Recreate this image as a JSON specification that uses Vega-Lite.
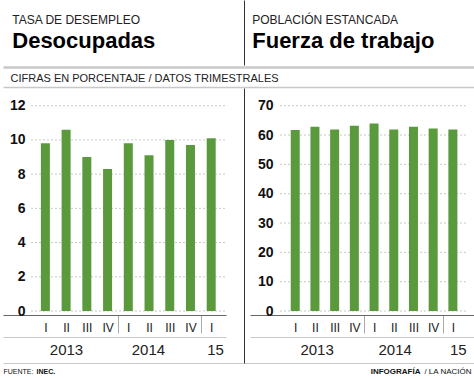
{
  "$schema": "https://vega.github.io/schema/vega-lite/v6.json",
  "padding": 0,
  "background": "white",
  "spacing": 0,
  "bounds": "flush",
  "config": {"view": {"stroke": null}, "font": "Liberation Sans", "axis": {"grid": false, "labelFont": "Liberation Sans", "titleFont": "Liberation Sans"}},
  "datasets": {
    "desocupadas": [
      {"trimestre": 1, "valor": 9.8}, {"trimestre": 2, "valor": 10.6}, {"trimestre": 3, "valor": 9.0},
      {"trimestre": 4, "valor": 8.3}, {"trimestre": 5, "valor": 9.8}, {"trimestre": 6, "valor": 9.1},
      {"trimestre": 7, "valor": 10.0}, {"trimestre": 8, "valor": 9.7}, {"trimestre": 9, "valor": 10.1}
    ],
    "fuerza": [
      {"trimestre": 1, "valor": 61.7}, {"trimestre": 2, "valor": 62.8}, {"trimestre": 3, "valor": 61.9},
      {"trimestre": 4, "valor": 63.2}, {"trimestre": 5, "valor": 63.9}, {"trimestre": 6, "valor": 61.9},
      {"trimestre": 7, "valor": 62.8}, {"trimestre": 8, "valor": 62.2}, {"trimestre": 9, "valor": 61.9}
    ],
    "gridL": [{"g": 0}, {"g": 2}, {"g": 4}, {"g": 6}, {"g": 8}, {"g": 10}, {"g": 12}],
    "gridR": [{"g": 0}, {"g": 10}, {"g": 20}, {"g": 30}, {"g": 40}, {"g": 50}, {"g": 60}, {"g": 70}],
    "one": [{"k": 0}]
  },
  "hconcat": [
    {
      "width": 241,
      "height": 379,
      "title": {"text": "TASA DE DESEMPLEO", "subtitle": "Desocupadas", "anchor": "start", "orient": "top", "offset": -53, "dx": 12,
        "font": "Liberation Sans", "fontSize": 12, "fontWeight": "normal", "color": "#222",
        "subtitleFont": "Liberation Sans", "subtitleFontSize": 22, "subtitleFontWeight": "bold", "subtitleColor": "#000", "subtitlePadding": 4},
      "resolve": {"scale": {"x": "independent"}, "axis": {"x": "independent"}},
      "layer": [
        {
          "data": {"name": "gridL"},
          "mark": {"type": "rule", "color": "#c8c8c8", "strokeDash": [2, 2], "strokeWidth": 1},
          "encoding": {
            "y": {"field": "g", "type": "quantitative"},
            "x": {"datum": 0.49, "type": "quantitative", "scale": {"domain": [-0.8035, 10.341], "nice": false, "zero": false},
              "axis": {"orient": "bottom", "offset": -42, "values": [2.11, 5.9, 9], "labelExpr": "datum.value < 4 ? '2013' : datum.value < 8 ? '2014' : '15'",
                "domainColor": "#c8c8c8", "domainWidth": 1, "domainDash": [223, 100], "ticks": false, "labelPadding": 5, "labelFontSize": 15, "labelColor": "#222",
                "labelFlush": false, "labelOverlap": false, "labelBound": false,
                "title": "INEC.", "titleX": 33, "titleY": 36, "titleAlign": "left", "titleBaseline": "alphabetic", "titleFontSize": 7, "titleFontWeight": "bold", "titleColor": "#111"}},
            "x2": {"datum": 9.46}
          }
        },
        {
          "data": {"name": "desocupadas"},
          "mark": {"type": "bar", "color": "#5a9a3c", "width": 9},
          "encoding": {
            "x": {"field": "trimestre", "type": "quantitative", "scale": {"domain": [-0.8035, 10.341], "nice": false, "zero": false},
              "axis": {"orient": "bottom", "offset": -64, "values": [1, 2, 3, 4, 4.5, 5, 6, 7, 8, 8.5, 9],
                "labelExpr": "datum.value % 1 ? '' : ['', 'I', 'II', 'III', 'IV', 'I', 'II', 'III', 'IV', 'I'][datum.value]",
                "title": null, "domainColor": "#666", "domainWidth": 1.2, "domainDash": [223, 100],
                "tickSize": 18, "tickColor": "#aaa", "tickWidth": 1, "tickOpacity": {"condition": {"test": "datum.value % 1 != 0", "value": 1}, "value": 0},
                "labelPadding": -11, "labelFontSize": 12, "labelColor": "#222", "labelFlush": false, "labelOverlap": false, "labelBound": false}},
            "y": {"field": "valor", "type": "quantitative", "scale": {"domain": [-3.974, 18.177], "nice": false, "zero": false},
              "axis": {"orient": "left", "offset": -24, "values": [0, 2, 4, 6, 8, 10, 12], "title": null, "domain": false, "ticks": false,
                "labelPadding": 2, "labelFontSize": 14, "labelFontWeight": "bold", "labelColor": "#111", "labelFlush": false, "labelOverlap": false, "labelBound": false}}
          }
        },
        {
          "data": {"name": "one"},
          "mark": {"type": "point", "opacity": 0},
          "encoding": {
            "x": {"datum": 0, "type": "quantitative", "scale": {"domain": [0, 1], "nice": false},
              "axis": {"orient": "top", "offset": -87, "labels": false, "ticks": false, "domainColor": "#c8c8c8", "domainWidth": 1.5,
                "title": "CIFRAS EN PORCENTAJE / DATOS TRIMESTRALES", "titleX": 7, "titleY": -9, "titleAlign": "left", "titleBaseline": "middle",
                "titleFontSize": 11, "titleFontWeight": "normal", "titleColor": "#222"}}
          }
        },
        {
          "data": {"name": "one"},
          "mark": {"type": "point", "opacity": 0},
          "encoding": {
            "x": {"datum": 0, "type": "quantitative", "scale": {"domain": [0, 1], "nice": false},
              "axis": {"orient": "top", "offset": -67, "labels": false, "ticks": false, "domainColor": "#c8c8c8", "domainWidth": 2.5, "title": null}}
          }
        },
        {
          "data": {"name": "one"},
          "mark": {"type": "point", "opacity": 0},
          "encoding": {
            "x": {"datum": 0, "type": "quantitative", "scale": {"domain": [0, 1], "nice": false},
              "axis": {"orient": "bottom", "offset": -16, "labels": false, "ticks": false, "domainColor": "#c8c8c8", "domainWidth": 1,
                "title": "FUENTE:", "titleX": 0, "titleY": 10, "titleAlign": "left", "titleBaseline": "alphabetic", "titleFontSize": 7, "titleFontWeight": "normal", "titleColor": "#111"}}
          }
        }
      ]
    },
    {
      "width": 233,
      "height": 379,
      "title": {"text": "POBLACIÓN ESTANCADA", "subtitle": "Fuerza de trabajo", "anchor": "start", "orient": "top", "offset": -53, "dx": 11,
        "font": "Liberation Sans", "fontSize": 12, "fontWeight": "normal", "color": "#222",
        "subtitleFont": "Liberation Sans", "subtitleFontSize": 22, "subtitleFontWeight": "bold", "subtitleColor": "#000", "subtitlePadding": 4},
      "resolve": {"scale": {"x": "independent", "y": "independent"}, "axis": {"x": "independent", "y": "independent"}},
      "layer": [
        {
          "data": {"name": "gridR"},
          "mark": {"type": "rule", "color": "#c8c8c8", "strokeDash": [2, 2], "strokeWidth": 1},
          "encoding": {
            "y": {"field": "g", "type": "quantitative", "scale": {"domain": [-23.18, 106.03], "nice": false, "zero": false}, "axis": null},
            "x": {"datum": 0.4, "type": "quantitative", "scale": {"domain": [-1.346, 9.97], "nice": false, "zero": false},
              "axis": {"orient": "bottom", "offset": -42, "values": [2.18, 5.97, 9.04], "labelExpr": "datum.value < 4 ? '2013' : datum.value < 8 ? '2014' : '15'",
                "domainColor": "#c8c8c8", "domainWidth": 1, "domainDash": [0, 6, 1000], "ticks": false, "labelPadding": 5, "labelFontSize": 15, "labelColor": "#222",
                "labelFlush": false, "labelOverlap": false, "labelBound": false,
                "title": "INFOGRAFÍA", "titleX": 176, "titleY": 36, "titleAlign": "right", "titleBaseline": "alphabetic", "titleFontSize": 8, "titleFontWeight": "bold", "titleColor": "#111"}},
            "x2": {"datum": 9.53}
          }
        },
        {
          "data": {"name": "fuerza"},
          "mark": {"type": "bar", "color": "#5a9a3c", "width": 9},
          "encoding": {
            "x": {"field": "trimestre", "type": "quantitative", "scale": {"domain": [-1.346, 9.97], "nice": false, "zero": false},
              "axis": {"orient": "bottom", "offset": -64, "values": [1, 2, 3, 4, 4.5, 5, 6, 7, 8, 8.5, 9],
                "labelExpr": "datum.value % 1 ? '' : ['', 'I', 'II', 'III', 'IV', 'I', 'II', 'III', 'IV', 'I'][datum.value]",
                "title": null, "domainColor": "#666", "domainWidth": 1.2, "domainDash": [0, 6, 1000],
                "tickSize": 18, "tickColor": "#aaa", "tickWidth": 1, "tickOpacity": {"condition": {"test": "datum.value % 1 != 0", "value": 1}, "value": 0},
                "labelPadding": -11, "labelFontSize": 12, "labelColor": "#222", "labelFlush": false, "labelOverlap": false, "labelBound": false}},
            "y": {"field": "valor", "type": "quantitative", "scale": {"domain": [-23.18, 106.03], "nice": false, "zero": false},
              "axis": {"orient": "left", "offset": -31, "values": [0, 10, 20, 30, 40, 50, 60, 70], "title": null, "domain": false, "ticks": false,
                "labelPadding": 2, "labelFontSize": 14, "labelFontWeight": "bold", "labelColor": "#111", "labelFlush": false, "labelOverlap": false, "labelBound": false}}
          }
        },
        {
          "data": {"name": "one"},
          "mark": {"type": "point", "opacity": 0},
          "encoding": {
            "x": {"datum": 0, "type": "quantitative", "scale": {"domain": [0, 1], "nice": false},
              "axis": {"orient": "top", "offset": -87, "labels": false, "ticks": false, "domainColor": "#c8c8c8", "domainWidth": 1.5, "title": null}},
            "y": {"datum": 0, "type": "quantitative", "scale": {"domain": [0, 1], "nice": false},
              "axis": {"orient": "left", "offset": 0, "labels": false, "ticks": false, "domainColor": "#333", "domainWidth": 1, "domainDash": [0, 16, 275, 23, 65], "title": null}}
          }
        },
        {
          "data": {"name": "one"},
          "mark": {"type": "point", "opacity": 0},
          "encoding": {
            "x": {"datum": 0, "type": "quantitative", "scale": {"domain": [0, 1], "nice": false},
              "axis": {"orient": "top", "offset": -67, "labels": false, "ticks": false, "domainColor": "#c8c8c8", "domainWidth": 2.5, "title": null}}
          }
        },
        {
          "data": {"name": "one"},
          "mark": {"type": "point", "opacity": 0},
          "encoding": {
            "x": {"datum": 0, "type": "quantitative", "scale": {"domain": [0, 1], "nice": false},
              "axis": {"orient": "bottom", "offset": -16, "labels": false, "ticks": false, "domainColor": "#c8c8c8", "domainWidth": 1,
                "title": "/ LA NACIÓN", "titleX": 227, "titleY": 10, "titleAlign": "right", "titleBaseline": "alphabetic", "titleFontSize": 8, "titleFontWeight": "normal", "titleColor": "#111"}}
          }
        }
      ]
    }
  ]
}
